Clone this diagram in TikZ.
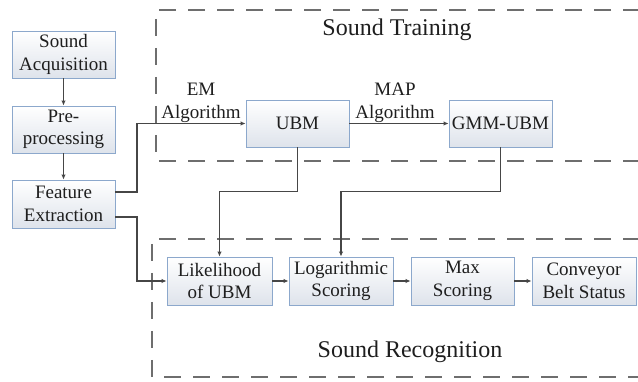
\documentclass[tikz,border=0pt]{standalone}
\usepackage{fontspec}
\setmainfont{Liberation Serif}
\usetikzlibrary{calc,arrows.meta}
\definecolor{boxline}{RGB}{140,168,204}
\definecolor{boxend}{RGB}{222,227,235}
\definecolor{linec}{RGB}{70,70,70}
\definecolor{dashc}{RGB}{110,110,110}
\definecolor{txt}{RGB}{30,30,30}
\tikzset{
  procbox/.style={draw=boxline, line width=0.9pt, top color=white, bottom color=boxend,
    minimum width=103pt, minimum height=47pt, inner sep=0pt, align=center,
    text=txt, font=\fontsize{19}{22.5}\selectfont},
  lbl/.style={align=center, inner sep=0pt, text=txt, font=\fontsize{19}{23}\selectfont},
  title/.style={inner sep=0pt, text=txt, font=\fontsize{24}{28}\selectfont},
  arr/.style={draw=linec, line width=1.1pt, -{Latex[length=5pt,width=4.5pt]}},
  conn/.style={draw=linec, line width=1.1pt},
  region/.style={draw=dashc, line width=1.3pt, dash pattern=on 17pt off 12pt},
}
\begin{document}
\begin{tikzpicture}[x=1pt,y=-1pt]
\useasboundingbox (0,0) rectangle (638,382);
% dashed regions (open on the right)
\draw[region] (640,10) -- (156,10) -- (156,161) -- (640,161);
\draw[region] (640,239) -- (152,239) -- (152,377) -- (640,377);
\node[title] (ttrain) at (397,30) {Sound Training};
\node[title] (trec) at (410,352) {Sound Recognition};
% boxes
\node[procbox] (SA) at (63.5,54.5) {Sound\\Acquisition};
\node[procbox] (PP) at (63.5,129.5) {Pre-\\processing};
\node[procbox, minimum height=48pt] (FE) at (63.5,204) {Feature\\Extraction};
\node[procbox] (UBM) at (297.5,123.5) {UBM};
\node[procbox] (GMM) at (500.5,123.5) {GMM-UBM};
\node[procbox, minimum width=105pt, minimum height=48pt] (LK) at (219.5,281) {Likelihood\\of UBM};
\node[procbox, minimum width=104pt, minimum height=48pt] (LOG) at (341,281) {Logarithmic\\Scoring};
\node[procbox, minimum height=48pt] (MAX) at (462.5,281) {Max\\Scoring};
\node[procbox, minimum width=104pt, minimum height=48pt] (CB) at (584,281) {Conveyor\\Belt Status};
% labels
\node[lbl] (em) at (201,103) {EM\\Algorithm};
\node[lbl] (map) at (395,103) {MAP\\Algorithm};
% connectors
\draw[arr] (SA) -- (PP);
\draw[arr] (PP) -- (FE);
\draw[arr] ($(FE.east)+(0,-12)$) -- (137,192) |- (UBM.west);
\draw[arr] (UBM) -- (GMM);
\draw[arr] (UBM.south) |- ($(LK.north)+(0,-65)$) -- (LK.north);
\draw[arr] (GMM.south) |- ($(LOG.north)+(0,-65)$) -- (LOG.north);
\draw[arr] ($(FE.east)+(0,13)$) -- (137,217) |- (LK.west);
\draw[arr] (LK) -- (LOG);
\draw[arr] (LOG) -- (MAX);
\draw[arr] (MAX) -- (CB);
\end{tikzpicture}
\end{document}
